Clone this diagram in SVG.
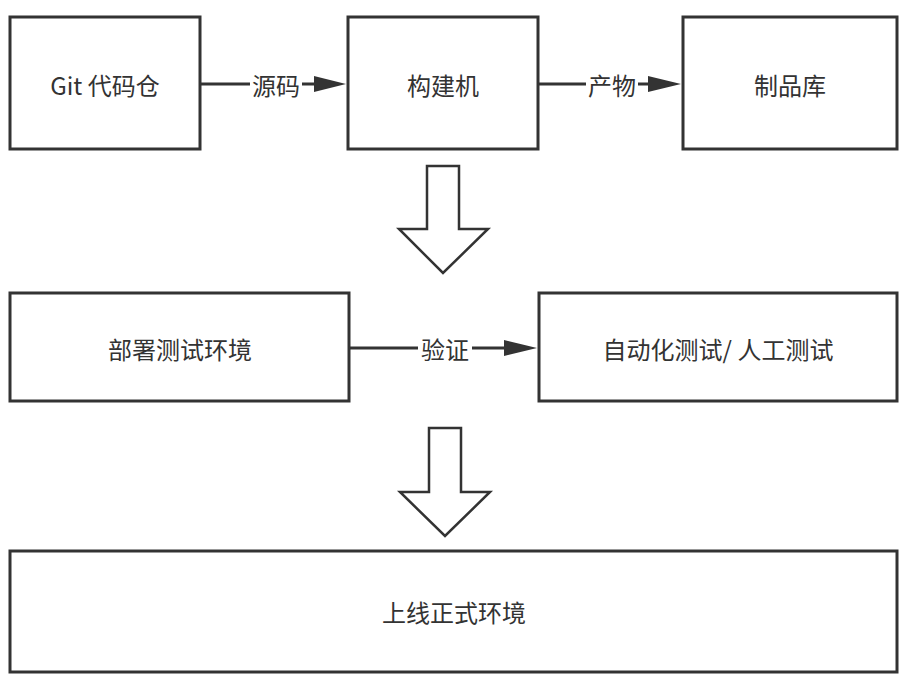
<svg xmlns="http://www.w3.org/2000/svg" width="907" height="681" viewBox="0 0 907 681">
<style>
.box{fill:#fff;stroke:#333;stroke-width:3}
.t{font-family:"Noto Sans CJK SC","Noto Sans",sans-serif;font-size:24px;fill:#333;text-anchor:middle;dominant-baseline:central}
.lbl{fill:#fff;stroke:none}
.con{stroke:#333;stroke-width:3;fill:none}
.blk{fill:#fff;stroke:#333;stroke-width:2.5;stroke-linejoin:miter}
</style>
<rect width="907" height="681" fill="#fff"/>
<g id="connectors">
<line class="con" x1="200" y1="84" x2="318" y2="84"/>
<polygon points="314,76 346,84 314,92" fill="#333"/>
<rect class="lbl" x="250" y="70" width="52" height="30"/>
<text class="t" x="276" y="84">源码</text>
<line class="con" x1="538" y1="84" x2="652" y2="84"/>
<polygon points="648,76 681,84 648,92" fill="#333"/>
<rect class="lbl" x="586" y="70" width="52" height="30"/>
<text class="t" x="612" y="84">产物</text>
<line class="con" x1="349" y1="348" x2="508" y2="348"/>
<polygon points="504,340 537,348 504,356" fill="#333"/>
<rect class="lbl" x="418" y="334" width="54" height="30"/>
<text class="t" x="445" y="348">验证</text>
<polygon id="bigarrow1" class="blk" points="427,166 459,166 459,229 488,229 443,273 399,229 427,229"/>
<polygon id="bigarrow2" class="blk" points="429,428 461,428 461,492 490,492 445,536 400,492 429,492"/>
</g>
<g id="git"><rect class="box" x="10" y="17" width="190" height="132"/><text class="t" x="105" y="84">Git 代码仓</text></g>
<g id="build"><rect class="box" x="348" y="17" width="190" height="132"/><text class="t" x="443" y="84">构建机</text></g>
<g id="artifact"><rect class="box" x="683" y="17" width="214" height="132"/><text class="t" x="790" y="84">制品库</text></g>
<g id="deploytest"><rect class="box" x="10" y="293" width="339" height="108"/><text class="t" x="180" y="348">部署测试环境</text></g>
<g id="tests"><rect class="box" x="539" y="293" width="358" height="108"/><text class="t" x="718" y="348">自动化测试/ 人工测试</text></g>
<g id="prod"><rect class="box" x="10" y="551" width="887" height="121"/><text class="t" x="454" y="611">上线正式环境</text></g>
</svg>
